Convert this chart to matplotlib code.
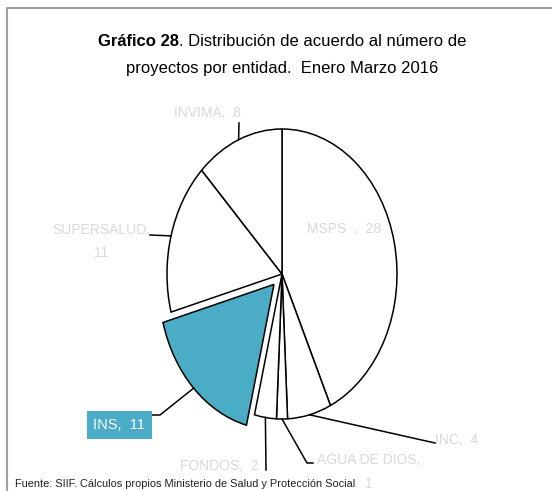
import matplotlib.pyplot as plt
import numpy as np
from matplotlib.lines import Line2D

# Datos del gráfico
entidades = ["MSPS", "INC", "AGUA DE DIOS", "FONDOS", "INS", "SUPERSALUD", "INVIMA"]
proyectos = [28, 4, 1, 2, 11, 11, 8]
explosion = [0, 0, 0, 0, 0.1, 0, 0]
colores = ["white", "white", "white", "white", "#4BACC6", "white", "white"]

W, H = 552, 491
gris = "#D9D9D9"
plt.rcParams["font.family"] = ["Liberation Sans Narrow", "Liberation Sans", "DejaVu Sans"]


def fig_xy(x, y):
    # pixeles (desde arriba) -> fracción de figura
    return x / W, 1 - y / H


fig = plt.figure(figsize=(W / 100, H / 100), dpi=100)
renderer = fig.canvas.get_renderer()


def ajustar(t, ancho):
    # ajusta el tamaño de letra para que el texto ocupe 'ancho' pixeles
    s = t.get_fontsize()
    w = t.get_window_extent(renderer).width
    t.set_fontsize(s * ancho / w)
    return t


# Eje de la torta (elíptica, como en el original)
cx, cy, rx, ry = 282, 274, 115, 145
ax = fig.add_axes([(cx - 1.25 * rx) / W, (H - cy - 1.25 * ry) / H,
                   2.5 * rx / W, 2.5 * ry / H])
wedges, _ = ax.pie(proyectos, explode=explosion, colors=colores, startangle=90,
                   counterclock=False,
                   wedgeprops=dict(edgecolor="black", linewidth=1.1))
ax.set_aspect("auto")
ax.set_xlim(-1.25, 1.25)
ax.set_ylim(-1.25, 1.25)


def punto_arco(w):
    ang = np.deg2rad((w.theta1 + w.theta2) / 2)
    px = w.center[0] + w.r * np.cos(ang)
    py = w.center[1] + w.r * np.sin(ang)
    dx, dy = ax.transData.transform((px, py))
    return dx, H - dy


# Etiquetas con líneas guía (cada línea de texto con su posición en pixeles)
etiquetas = {
    "INVIMA": dict(lineas=[("INVIMA,  8", (207, 113))], guia=[(239, 123)]),
    "SUPERSALUD": dict(lineas=[("SUPERSALUD,", (101, 230)), ("11", (101, 253))],
                       guia=[(150, 235)]),
    "INS": dict(lineas=[("INS,  11", (119, 425))], guia=[(160, 415), (152, 415)]),
    "FONDOS": dict(lineas=[("FONDOS,  2", (219, 466))], guia=[(266, 470)]),
    "AGUA DE DIOS": dict(lineas=[("AGUA DE DIOS,", (369, 460)), ("1", (369, 484))],
                         guia=[(307, 463), (313, 463)]),
    "INC": dict(lineas=[("INC,  4", (457, 440))], guia=[(435, 443)]),
}
tam = 10

for w, nombre in zip(wedges, entidades):
    if nombre == "MSPS":
        fx, fy = fig_xy(344, 229)
        fig.text(fx, fy, "MSPS  ,  28", color=gris, fontsize=tam,
                 ha="center", va="center")
        continue
    e = etiquetas[nombre]
    pts = [punto_arco(w)] + e["guia"]
    xs = [p[0] / W for p in pts]
    ys = [1 - p[1] / H for p in pts]
    fig.add_artist(Line2D(xs, ys, color="black", linewidth=1.1,
                          transform=fig.transFigure))
    for texto, pos in e["lineas"]:
        fx, fy = fig_xy(*pos)
        if nombre == "INS":
            fig.text(fx, fy, texto, color="white", fontsize=tam + 0.5,
                     ha="center", va="center",
                     bbox=dict(boxstyle="square,pad=0.45", facecolor="#4BACC6",
                               edgecolor="none"))
        else:
            fig.text(fx, fy, texto, color=gris, fontsize=tam,
                     ha="center", va="center")

# Título con parte en negrita
t1 = fig.text(0, 0, "Gráfico 28", fontsize=12.5, fontweight="bold", va="center")
t2 = fig.text(0, 0, ". Distribución de acuerdo al número de", fontsize=12.5, va="center")
w1 = t1.get_window_extent(renderer).width
w2 = t2.get_window_extent(renderer).width
esc = 369 / (w1 + w2)
t1.set_fontsize(12.5 * esc)
t2.set_fontsize(12.5 * esc)
w1 = t1.get_window_extent(renderer).width
w2 = t2.get_window_extent(renderer).width
x0 = 282 - (w1 + w2) / 2
t1.set_position(fig_xy(x0, 42))
t2.set_position(fig_xy(x0 + w1, 42))
fx, fy = fig_xy(282, 68)
t3 = fig.text(fx, fy, "proyectos por entidad.  Enero Marzo 2016", fontsize=12.5,
              ha="center", va="center")
t3.set_fontsize(12.5 * esc)

# Fuente
fx, fy = fig_xy(15, 484)
ajustar(fig.text(fx, fy, "Fuente: SIIF. Cálculos propios Ministerio de Salud y Protección Social",
                 fontsize=9, va="center", color="#202020"), 340)

# Marco gris (izquierda y arriba)
fig.add_artist(Line2D([6.5 / W, 6.5 / W, 1], [0, 1 - 7.5 / H, 1 - 7.5 / H],
                      color="#A0A0A0", linewidth=1.5, transform=fig.transFigure))

fig.savefig("out.png", dpi=100)
